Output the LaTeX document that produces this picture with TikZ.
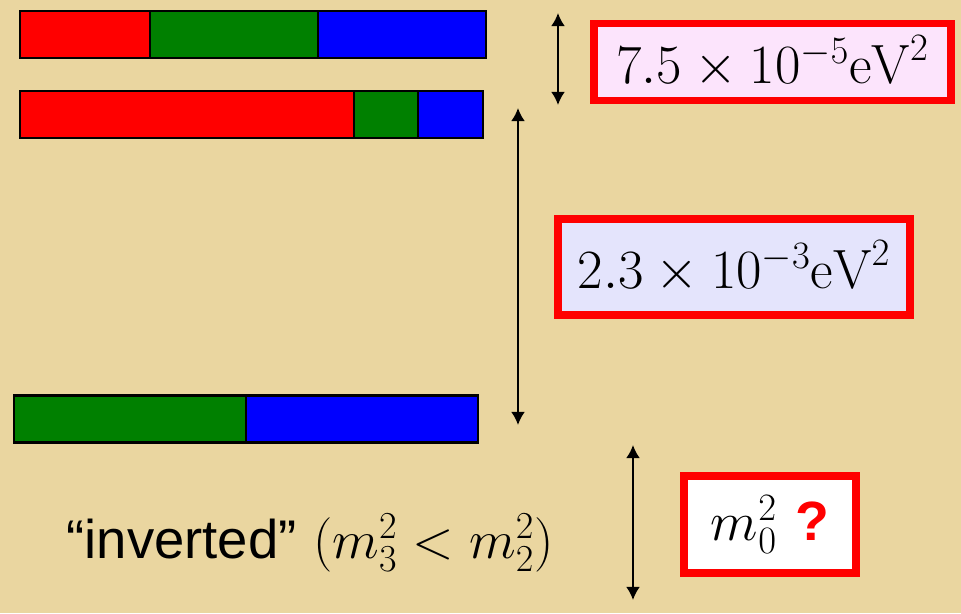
\RequirePackage{fix-cm}
\documentclass[tikz,border=0pt]{standalone}
\usepackage{fontspec}
\newfontfamily\arial{Liberation Sans}
\usepackage{tikz}
\usetikzlibrary{arrows.meta,positioning}
\definecolor{parch}{RGB}{234,214,160}
\definecolor{nured}{RGB}{255,0,0}
\definecolor{nugreen}{RGB}{0,128,0}
\definecolor{nublue}{RGB}{0,0,255}
\definecolor{pinkbox}{RGB}{252,228,252}
\definecolor{lavbox}{RGB}{228,228,252}

\begin{document}
\begin{tikzpicture}[x=0.02cm, y=-0.02cm, >={Latex[length=7.5pt,width=8pt]},
  bar/.style={draw=black, line width=1.7pt},
  dm/.style={<->, line width=1.3pt},
  valbox/.style={draw=nured, line width=4.5pt, inner sep=0pt, font=\fontsize{31.5}{37}\selectfont}]
  \fill[parch] (0,0) rectangle (961,613);
  \useasboundingbox (0,0) rectangle (961,613);

  % mass bars
  \filldraw[bar, fill=nured] (20,11) rectangle (150,58);
  \filldraw[bar, fill=nugreen] (150,11) rectangle (318,58);
  \filldraw[bar, fill=nublue] (318,11) rectangle (486,58);
  \filldraw[bar, fill=nured] (20,91) rectangle (354,138);
  \filldraw[bar, fill=nugreen] (354,91) rectangle (418,138);
  \filldraw[bar, fill=nublue] (418,91) rectangle (483,138);
  \filldraw[bar, fill=nugreen] (14,395) rectangle (246,442);
  \filldraw[bar, fill=nublue] (246,395) rectangle (478,442);

  % splittings
  \coordinate (s1) at (558,13);  \coordinate (s2) at (558,105);
  \coordinate (a1) at (518,108); \coordinate (a2) at (518,425);
  \coordinate (m1) at (633,445); \coordinate (m2) at (633,600);
  \draw[dm] (s1) -- (s2);
  \draw[dm] (a1) -- (a2);
  \draw[dm] (m1) -- (m2);

  \node (solar) [valbox, fill=pinkbox, minimum width=7.14cm, minimum height=1.54cm] at (772.5,62) {$7.5\times10^{-5}\mathrm{eV}^2$};
  \node (atm) [valbox, fill=lavbox, minimum width=7.04cm, minimum height=1.92cm] at (734,267) {$2.3\times10^{-3}\mathrm{eV}^2$};
  \node (abs) [valbox, fill=white, minimum width=3.44cm, minimum height=1.94cm] at (770,524.5) {$m_0^2$\,\,{\arial\bfseries\color{nured}?}};

  \node (lbl) [font=\fontsize{31}{37}\selectfont] at (310,543) {{\arial “inverted”} $(m_3^2<m_2^2)$};
\end{tikzpicture}
\end{document}
